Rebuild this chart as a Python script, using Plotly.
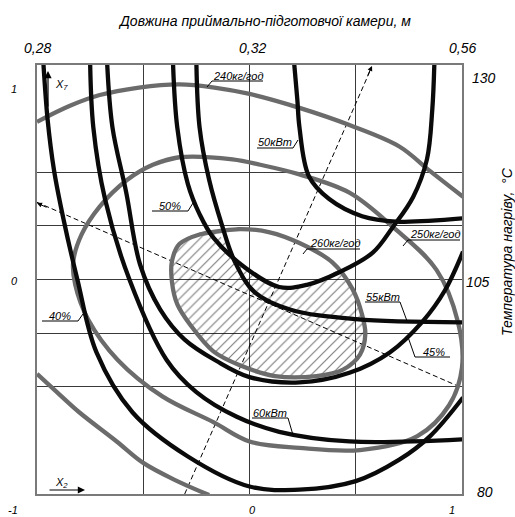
import numpy as np
import plotly.graph_objects as go

# ---------------- data (coded factor levels) ----------------
x_grid = [-1, -0.5, 0, 0.5, 1]
y_grid = [-1, -0.5, -0.25, 0, 0.25, 0.5, 1]
top_tick_labels = ["0,28", "0,32", "0,56"]
bottom_tick_labels = ["-1", "0", "1"]
left_tick_labels = ["1", "0"]
right_tick_labels = ["130", "105", "80"]

# productivity, kg/h (gray)
g240_x = [-1.0, -0.845, -0.705, -0.52, -0.33, -0.165, 0.0, 0.235, 0.47, 0.705, 0.85, 1.005]
g240_y = [0.735, 0.81, 0.86, 0.895, 0.91, 0.895, 0.865, 0.80, 0.72, 0.62, 0.505, 0.385]

g250_x = [-0.33, -0.455, -0.575, -0.705, -0.79, -0.83, -0.82, -0.76, -0.62, -0.41, -0.17, 0.0,
          0.235, 0.52, 0.79, 0.94, 1.00, 0.98, 0.88, 0.675, 0.47, 0.235, 0.05, -0.08]
g250_y = [0.57, 0.535, 0.465, 0.34, 0.21, 0.08, -0.025, -0.185, -0.375, -0.545, -0.665, -0.755,
          -0.785, -0.795, -0.73, -0.585, -0.41, -0.195, 0.045, 0.245, 0.405, 0.49, 0.535, 0.56]

g260_x = [-0.045, -0.235, -0.33, -0.365, -0.365, -0.34, -0.28, -0.17, -0.045, 0.12, 0.315,
          0.44, 0.52, 0.545, 0.53, 0.485, 0.39, 0.235, 0.095]
g260_y = [0.235, 0.21, 0.165, 0.085, -0.01, -0.115, -0.21, -0.335, -0.40, -0.45, -0.45,
          -0.42, -0.35, -0.255, -0.165, -0.045, 0.08, 0.17, 0.22]

g230_x = [-1.0, -0.89, -0.80, -0.625, -0.50, -0.35, -0.19]
g230_y = [-0.44, -0.54, -0.62, -0.755, -0.855, -0.935, -1.005]

# efficiency, % (black, U-shaped)
e40_x = [-0.97, -0.95, -0.92, -0.875, -0.81, -0.72, -0.55, -0.29, 0.0, 0.235, 0.50, 0.705, 0.85, 1.005]
e40_y = [1.01, 0.745, 0.51, 0.28, 0.0, -0.34, -0.62, -0.825, -0.965, -0.98, -0.94, -0.84, -0.73, -0.55]

e45_x = [-0.67, -0.645, -0.58, -0.515, -0.42, -0.305, -0.155, 0.0, 0.235, 0.47, 0.66, 0.815, 0.92, 1.005]
e45_y = [1.01, 0.71, 0.405, 0.07, -0.14, -0.28, -0.38, -0.455, -0.48, -0.435, -0.34, -0.195, -0.05, 0.13]

e50_x = [-0.36, -0.34, -0.29, -0.235, -0.17, -0.02, 0.14, 0.27, 0.425, 0.58, 0.675, 0.77, 0.835, 0.86, 0.87]
e50_y = [1.01, 0.71, 0.445, 0.305, 0.195, 0.055, -0.035, -0.025, 0.035, 0.125, 0.245, 0.385, 0.56, 0.79, 1.01]

# power, kW (black, L-shaped)
p50_x = [0.21, 0.225, 0.235, 0.28, 0.375, 0.53, 0.69, 1.005]
p50_y = [1.01, 0.84, 0.71, 0.48, 0.375, 0.295, 0.27, 0.285]

p55_x = [-0.25, -0.235, -0.19, -0.13, -0.07, 0.025, 0.19, 0.50, 1.005]
p55_y = [1.01, 0.71, 0.465, 0.255, 0.085, -0.06, -0.14, -0.185, -0.20]

p60_x = [-0.75, -0.735, -0.68, -0.565, -0.39, -0.25, -0.06, 0.14, 0.47, 1.005]
p60_y = [1.01, 0.71, 0.375, 0.0, -0.375, -0.525, -0.64, -0.71, -0.755, -0.745]

# rotated axes (dashed)
axis1_x = [-1.0, 1.0]
axis1_y = [0.36, -0.505]
axis2_x = [-0.305, 0.575]
axis2_y = [-1.0, 0.99]

# ---------------- styles ----------------
GRAY = "#6b6b6b"
BLACK = "#0a0a0a"
LW = 4.3
FONT = "Liberation Sans, Arial, sans-serif"

fig = go.Figure()

# ---------------- hatched optimum region: inside 260 kg/h, outside the 50 % curve ----------------
gx = np.array(g260_x)
gy = np.array(g260_y)
f = gy - np.interp(gx, e50_x, e50_y)
n = len(gx)
start = [i for i in range(n) if f[i - 1] >= 0 and f[i] < 0][0]


def cross(a, b):
    t = f[a] / (f[a] - f[b])
    return gx[a] + t * (gx[b] - gx[a]), gy[a] + t * (gy[b] - gy[a])


hx, hy = [], []
ex, ey = cross((start - 1) % n, start)
hx.append(ex); hy.append(ey)
i = start
while f[i % n] < 0:
    hx.append(gx[i % n]); hy.append(gy[i % n])
    i += 1
last = (i - 1) % n
qx, qy = cross(last, i % n)
hx.append(qx); hy.append(qy)
for X, Y in sorted([(a, b) for a, b in zip(e50_x, e50_y) if ex < a < qx], reverse=True):
    hx.append(X); hy.append(Y)
hx.append(ex); hy.append(ey)

fig.add_trace(go.Scatter(
    x=hx, y=hy, mode="lines", line=dict(width=0, shape="spline"),
    fill="toself", fillcolor="rgba(0,0,0,0)",
    fillpattern=dict(shape="/", fgcolor="black", bgcolor="rgba(0,0,0,0)", size=7, solidity=0.17),
    hoverinfo="skip"))

# dashed rotated axes
for ax_, ay_ in [(axis1_x, axis1_y), (axis2_x, axis2_y)]:
    fig.add_trace(go.Scatter(x=ax_, y=ay_, mode="lines",
                             line=dict(color="black", width=1, dash="5px,3px"), hoverinfo="skip"))


def curve(x, y, color, closed=False):
    x = list(x); y = list(y)
    if closed:
        x = x + x[:2]; y = y + y[:2]
    fig.add_trace(go.Scatter(x=x, y=y, mode="lines",
                             line=dict(color=color, width=LW, shape="spline", smoothing=1.0),
                             hoverinfo="skip"))


curve(g240_x, g240_y, GRAY)
curve(g250_x, g250_y, GRAY, closed=True)
curve(g260_x, g260_y, GRAY, closed=True)
curve(g230_x, g230_y, GRAY)
for cx, cy in [(e40_x, e40_y), (e45_x, e45_y), (e50_x, e50_y),
               (p50_x, p50_y), (p55_x, p55_y), (p60_x, p60_y)]:
    curve(cx, cy, BLACK)

# ---------------- layout helpers (pixel -> paper) ----------------
L, R, T, B = 37, 462, 65, 494


def PX(px):
    return (px - L) / (R - L)


def PY(py):
    return (B - py) / (B - T)


ann = []
shapes = []


def text(t, px, py, size=11, angle=0, xanchor="center"):
    ann.append(dict(text="<i>" + t + "</i>", x=PX(px), y=PY(py), xref="paper", yref="paper",
                    showarrow=False, xanchor=xanchor, yanchor="middle", textangle=angle,
                    font=dict(family=FONT, size=size, color="black")))


def polyline(pts, width=1):
    for (x0, y0), (x1, y1) in zip(pts[:-1], pts[1:]):
        shapes.append(dict(type="line", xref="paper", yref="paper",
                           x0=PX(x0), y0=PY(y0), x1=PX(x1), y1=PY(y1),
                           line=dict(color="black", width=width)))


# titles
text("Довжина приймально-підготовчої камери, м", 264, 21, 14)
text("Температура нагріву,  °C", 507, 252, 14, angle=-90)

# tick labels
for t, px in zip(top_tick_labels, [37, 252, 462]):
    text(t, px, 48, 14)
for t, px in zip(bottom_tick_labels, [13, 252, 452]):
    text(t, px, 510, 11)
for t, py in zip(left_tick_labels, [89, 281]):
    text(t, 14, py, 11)
for t, (px, py) in zip(right_tick_labels, [(484, 78), (478, 282), (485, 492)]):
    text(t, px, py, 14)

# curve labels with underline and leader
labels = [
    ("240кг/год", 238, 76, [(212, 81), (263, 81)], [(212, 81), (207, 87)]),
    ("50кВт", 275, 142, [(257, 148), (293, 148)], [(293, 148), (298, 140)]),
    ("50%", 170, 206, [(152, 211), (188, 211)], [(188, 211), (193, 203)]),
    ("260кг/год", 335, 243, [(307, 249), (360, 249)], [(307, 249), (303, 254)]),
    ("250кг/год", 435, 234, [(408, 240), (460, 240)], [(408, 240), (403, 246)]),
    ("55кВт", 383, 297, [(365, 302), (400, 302)], [(400, 302), (407, 321)]),
    ("45%", 434, 352, [(415, 357), (450, 357)], [(415, 357), (408, 337)]),
    ("60кВт", 270, 413, [(252, 418), (288, 418)], [(288, 418), (293, 435)]),
    ("40%", 60, 316, [(42, 321), (78, 321)], [(78, 321), (83, 314)]),
]
for t, px, py, ul, ld in labels:
    text(t, px, py, 11)
    polyline(ul)
    polyline(ld)

# axis direction arrows
ann.append(dict(x=PX(48), y=PY(71), xref="paper", yref="paper", ax=0, ay=37, showarrow=True,
                arrowhead=2, arrowsize=1.2, arrowwidth=1.2, arrowcolor="black", text=""))
ann.append(dict(x=PX(85), y=PY(490), xref="paper", yref="paper", ax=-37, ay=0, showarrow=True,
                arrowhead=2, arrowsize=1.2, arrowwidth=1.2, arrowcolor="black", text=""))
text("X<sub>7</sub>", 61, 85, 11)
text("X<sub>2</sub>", 61, 483, 11)

# arrowheads of the dashed axes
ann.append(dict(x=PX(372), y=PY(66), xref="paper", yref="paper", ax=-5, ay=11, showarrow=True,
                arrowhead=2, arrowsize=1, arrowwidth=1, arrowcolor="black", text=""))
ann.append(dict(x=PX(37), y=PY(203), xref="paper", yref="paper", ax=11, ay=5, showarrow=True,
                arrowhead=2, arrowsize=1, arrowwidth=1, arrowcolor="black", text=""))

fig.update_layout(
    width=515, height=517,
    margin=dict(l=L, r=515 - R, t=T, b=517 - B),
    paper_bgcolor="white", plot_bgcolor="white",
    showlegend=False,
    annotations=ann, shapes=shapes,
    xaxis=dict(range=[-1, 1], tickvals=x_grid, showticklabels=False, ticks="",
               showgrid=True, gridcolor="#3a3a3a", gridwidth=1, zeroline=False,
               showline=True, mirror=True, linecolor="#7a7a7a", linewidth=1.5, fixedrange=True),
    yaxis=dict(range=[-1, 1], tickvals=y_grid, showticklabels=False, ticks="",
               showgrid=True, gridcolor="#3a3a3a", gridwidth=1, zeroline=False,
               showline=True, mirror=True, linecolor="#7a7a7a", linewidth=1.5, fixedrange=True),
)

fig.write_html("out.html", config={"displayModeBar": False},
               post_script="document.body.style.margin='0';document.body.style.padding='0';")
